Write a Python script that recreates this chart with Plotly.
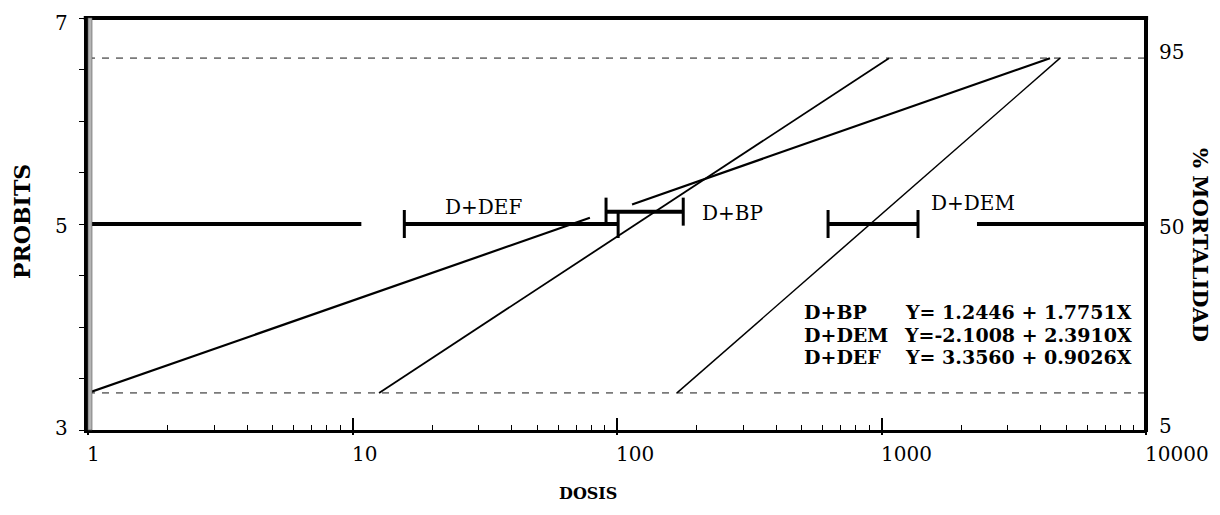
import plotly.graph_objects as go

# ---------------- data ----------------
# probit regression lines (dose, probit) end points
def_x1 = [1, 79]
def_y1 = [3.36, 5.06]
def_x2 = [114, 4335]
def_y2 = [5.19, 6.61]
bp_x = [12.6, 1067]
bp_y = [3.36, 6.61]
dem_x = [168.6, 4730]
dem_y = [3.36, 6.61]

# 50 % reference line pieces (probit 5)
ref50_left_x = [1, 10.8]
ref50_right_x = [2296, 10000]
ref50_y = 5

# LC50 confidence intervals
ci_def_x = [15.7, 101]
ci_def_y = 5.0
ci_bp_x = [90.9, 178]
ci_bp_y = 5.12
ci_dem_x = [628, 1374]
ci_dem_y = 5.0

# 95 % and 5 % probit levels
lvl_hi = 6.61
lvl_lo = 3.36
lvl_x = [1, 10000]

x_ticks = [1, 10, 100, 1000, 10000]
x_tick_text = ["1", "10", "100", "1000", "10000"]
x_minor = [m * d for d in [1, 10, 100, 1000] for m in range(2, 10)]
y_left_ticks = [7, 5, 3]
y_right_text = ["95", "50", "5"]

series_labels = ["D+DEF", "D+BP", "D+DEM"]
eq_names = ["D+BP", "D+DEM", "D+DEF"]
eq_texts = ["Y= 1.2446 + 1.7751X", "Y=-2.1008 + 2.3910X", "Y= 3.3560 + 0.9026X"]

FONT = "DejaVu Serif"

fig = go.Figure()

# dashed levels
for lv in [lvl_hi, lvl_lo]:
    fig.add_trace(go.Scatter(x=lvl_x, y=[lv, lv], mode="lines",
                             line=dict(color="#7a7a7a", width=1.6, dash="7px,7px"),
                             hoverinfo="skip"))

# regression lines
fig.add_trace(go.Scatter(x=def_x1, y=def_y1, mode="lines", line=dict(color="black", width=2.2)))
fig.add_trace(go.Scatter(x=def_x2, y=def_y2, mode="lines", line=dict(color="black", width=2.2)))
fig.add_trace(go.Scatter(x=bp_x, y=bp_y, mode="lines", line=dict(color="black", width=1.8)))
fig.add_trace(go.Scatter(x=dem_x, y=dem_y, mode="lines", line=dict(color="black", width=1.5)))

# probit 5 reference pieces
for xs in [ref50_left_x, ref50_right_x]:
    fig.add_trace(go.Scatter(x=xs, y=[ref50_y, ref50_y], mode="lines",
                             line=dict(color="black", width=4)))

# confidence intervals
for xs, yv in [(ci_def_x, ci_def_y), (ci_bp_x, ci_bp_y), (ci_dem_x, ci_dem_y)]:
    fig.add_trace(go.Scatter(x=xs, y=[yv, yv], mode="lines+markers",
                             line=dict(color="black", width=4),
                             marker=dict(symbol="line-ns", size=20,
                                         line=dict(color="black", width=3))))

# overlay axis for outside part of major ticks
fig.add_trace(go.Scatter(x=[1, 10000], y=[3, 3], xaxis="x2", mode="lines",
                         line=dict(width=0), hoverinfo="skip"))

fig.update_layout(
    width=1220, height=515,
    margin=dict(l=88, r=74, t=18, b=85),
    plot_bgcolor="white", paper_bgcolor="white",
    showlegend=False,
    font=dict(family=FONT, color="black"),
    xaxis=dict(type="log", range=[0, 4], showgrid=False, zeroline=False,
               showline=True, linecolor="black", linewidth=3,
               tickvals=x_ticks, ticks="inside", ticklen=12, tickwidth=1.5,
               tickcolor="black", showticklabels=False,
               minor=dict(tickvals=x_minor, ticks="inside", ticklen=5,
                          tickwidth=1, tickcolor="black")),
    xaxis2=dict(type="log", range=[0, 4], overlaying="x", side="bottom",
                anchor="y", showgrid=False, zeroline=False, showline=False,
                tickvals=x_ticks, ticks="outside", ticklen=4, tickwidth=1.5,
                tickcolor="black", showticklabels=False),
    yaxis=dict(range=[3, 7], showgrid=False, zeroline=False,
               showline=True, linecolor="black", linewidth=4,
               dtick=0.5, tick0=3, ticks="outside", ticklen=5, tickwidth=1,
               tickcolor="black", showticklabels=False),
)

shapes = [
    # top border
    dict(type="line", xref="paper", yref="paper", x0=-0.004, x1=1.002, y0=1, y1=1,
         line=dict(color="black", width=4)),
    # right border
    dict(type="line", xref="paper", yref="paper", x0=1, x1=1, y0=-0.005, y1=1.005,
         line=dict(color="black", width=4)),
    # grey inner band on left axis
    dict(type="rect", xref="paper", yref="paper", xsizemode="pixel", xanchor=0,
         x0=0, x1=4, y0=0, y1=1, fillcolor="#b5b5b5", line=dict(color="#555", width=0.6)),
]
fig.update_layout(shapes=shapes)


def px_x(p):
    return (p - 88) / 1058


def px_y(p):
    return (430 - p) / 412


ann = []
# x tick labels
for i, t in enumerate(x_tick_text):
    ann.append(dict(x=i, xref="x", y=0, yref="paper",
                    text=t, showarrow=False, xanchor="left", yanchor="top",
                    xshift=-3, yshift=-10, font=dict(size=20, family=FONT)))
# left y labels
for v in y_left_ticks:
    ann.append(dict(x=0, xref="paper", y=v, yref="y", text=str(v), showarrow=False,
                    xanchor="right", yanchor="middle", xshift=-18,
                    yshift=-5 if v == 7 else (-2 if v == 5 else 2),
                    font=dict(size=20, family=FONT)))
# right y labels
for v, t in zip([lvl_hi, 5, lvl_lo], y_right_text):
    ys = 6 if t == "95" else (-3 if t == "50" else -33)
    ann.append(dict(x=1, xref="paper", y=v, yref="y", text=t, showarrow=False,
                    xanchor="left", yanchor="middle", xshift=11, yshift=ys,
                    font=dict(size=20, family=FONT)))
# axis titles
ann.append(dict(x=px_x(22), xref="paper", y=px_y(222), yref="paper", text="<b>PROBITS</b>",
                showarrow=False, textangle=-90, xanchor="center", yanchor="middle",
                font=dict(size=22, family=FONT)))
ann.append(dict(x=px_x(1201), xref="paper", y=px_y(245), yref="paper",
                text="<b>% MORTALIDAD</b>", showarrow=False, textangle=90,
                xanchor="center", yanchor="middle",
                font=dict(size=21, family=FONT)))
ann.append(dict(x=px_x(588), xref="paper", y=px_y(493), yref="paper",
                text="<b>DOSIS</b>", showarrow=False, xanchor="center", yanchor="middle",
                font=dict(size=16, family=FONT)))

# series labels near intervals
lab_pos = [(483, 207, "center"), (700, 213, "left"), (929, 203, "left")]
for name, (px, py, xa) in zip(series_labels, lab_pos):
    ann.append(dict(x=px_x(px), xref="paper", y=px_y(py), yref="paper",
                    text=name, showarrow=False, xanchor=xa, yanchor="middle",
                    font=dict(size=20, family=FONT)))

# equations
for i, (nm, eq) in enumerate(zip(eq_names, eq_texts)):
    py = [312, 335, 357][i]
    ann.append(dict(x=px_x(802), xref="paper", y=px_y(py), yref="paper",
                    text="<b>" + nm + "</b>", showarrow=False, xanchor="left", yanchor="middle",
                    font=dict(size=19, family=FONT)))
    ann.append(dict(x=px_x(1134), xref="paper", y=px_y(py), yref="paper",
                    text="<b>" + eq + "</b>", showarrow=False, xanchor="right", yanchor="middle",
                    font=dict(size=19, family=FONT)))

fig.update_layout(annotations=ann)

fig.write_html("out.html")
